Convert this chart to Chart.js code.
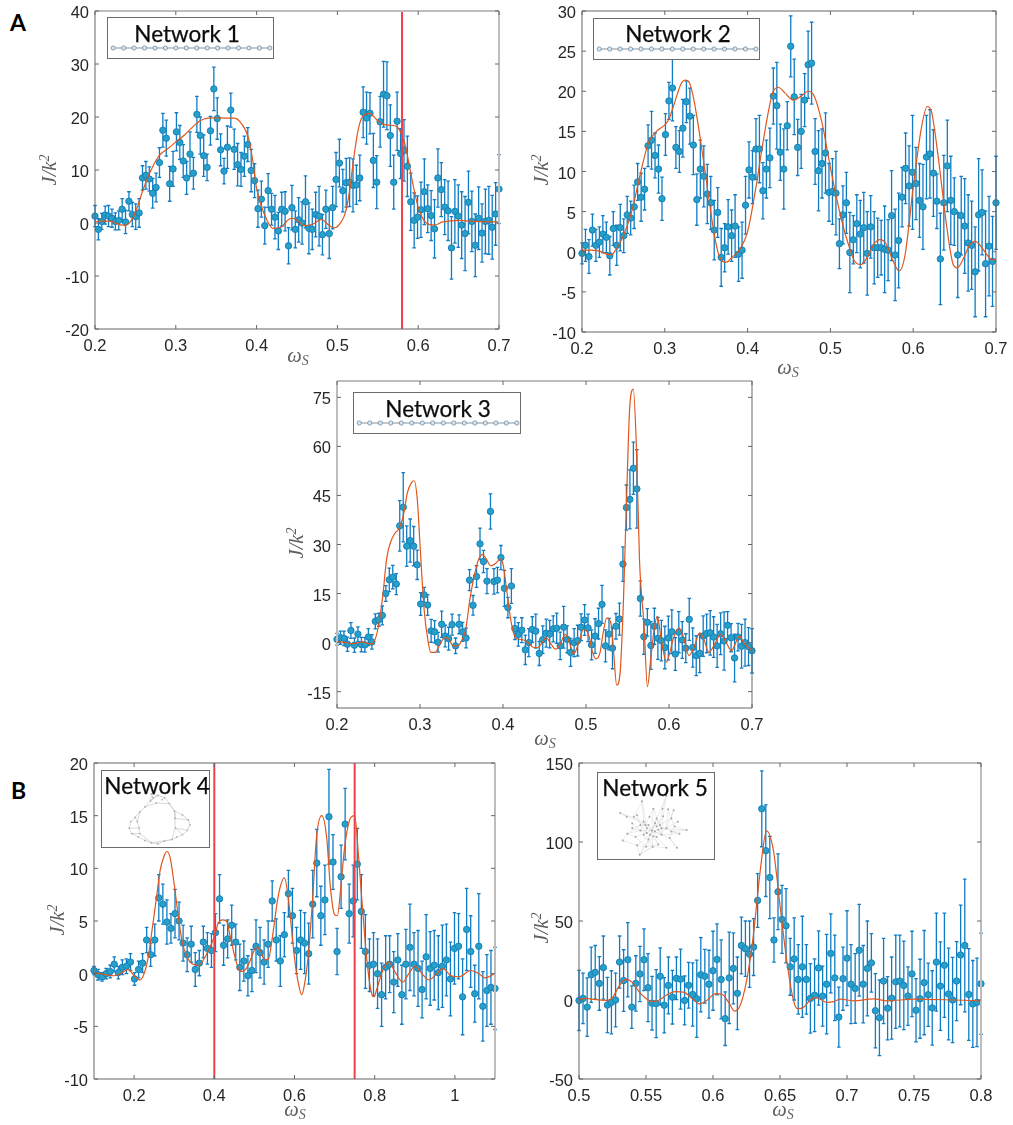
<!DOCTYPE html>
<html>
<head>
  <meta charset="UTF-8">
  <title>Network spectra</title>
  <script src="https://cdn.jsdelivr.net/npm/chart.js"></script>
  <style>
    html, body { margin: 0; background: #fff; overflow: hidden; }
    #page { position: relative; width: 1013px; height: 1125px; overflow: hidden; }
    #page canvas { position: absolute; }
    .letter { position: absolute; font: bold 23px Lato, sans-serif; color: #000; }
    .inset { position: absolute; box-sizing: border-box; border: 1.3px solid #6b6b6b; background: #fff; }
    .inset canvas { left: 0; top: 0; }
    .inset div { position: absolute; font: 22.5px Lato, sans-serif; color: #0c0c0c; -webkit-text-stroke: .25px #0c0c0c; white-space: nowrap; transform: translate(-50%, -50%); }
  </style>
</head>
<body>
<div id="page">
  <div class="letter" style="left:10px;top:8px">A</div>
  <div class="letter" style="left:11px;top:776px">B</div>
</div>
<script>
// frequency grids
const wA = [
  .2000,.2042,.2084,.2126,.2168,.2210,.2252,.2294,.2336,.2378,
  .2420,.2462,.2504,.2546,.2588,.2630,.2672,.2714,.2756,.2798,
  .2840,.2882,.2924,.2966,.3008,.3050,.3092,.3134,.3176,.3218,
  .3261,.3303,.3345,.3387,.3429,.3471,.3513,.3555,.3597,.3639,
  .3681,.3723,.3765,.3807,.3849,.3891,.3933,.3975,.4017,.4059,
  .4101,.4143,.4185,.4227,.4269,.4311,.4353,.4395,.4437,.4479,
  .4521,.4563,.4605,.4647,.4689,.4731,.4773,.4815,.4857,.4899,
  .4941,.4983,.5025,.5067,.5109,.5151,.5193,.5235,.5277,.5319,
  .5361,.5403,.5445,.5487,.5529,.5571,.5613,.5655,.5697,.5739,
  .5782,.5824,.5866,.5908,.5950,.5992,.6034,.6076,.6118,.6160,
  .6202,.6244,.6286,.6328,.6370,.6412,.6454,.6496,.6538,.6580,
  .6622,.6664,.6706,.6748,.6790,.6832,.6874,.6916,.6958,.7000];
const w4 = [
  .1000,.1101,.1202,.1303,.1404,.1505,.1606,.1707,.1808,.1909,
  .2010,.2111,.2212,.2313,.2414,.2515,.2616,.2717,.2818,.2919,
  .3020,.3121,.3222,.3323,.3424,.3525,.3626,.3727,.3828,.3929,
  .4030,.4131,.4232,.4333,.4434,.4535,.4636,.4737,.4838,.4939,
  .5040,.5141,.5242,.5343,.5444,.5545,.5646,.5747,.5848,.5949,
  .6051,.6152,.6253,.6354,.6455,.6556,.6657,.6758,.6859,.6960,
  .7061,.7162,.7263,.7364,.7465,.7566,.7667,.7768,.7869,.7970,
  .8071,.8172,.8273,.8374,.8475,.8576,.8677,.8778,.8879,.8980,
  .9081,.9182,.9283,.9384,.9485,.9586,.9687,.9788,.9889,.9990,
  1.0091,1.0192,1.0293,1.0394,1.0495,1.0596,1.0697,1.0798,1.0899,1.1000];
const w5 = [
  .5000,.5030,.5061,.5091,.5121,.5152,.5182,.5212,.5242,.5273,
  .5303,.5333,.5364,.5394,.5424,.5455,.5485,.5515,.5545,.5576,
  .5606,.5636,.5667,.5697,.5727,.5758,.5788,.5818,.5848,.5879,
  .5909,.5939,.5970,.6000,.6030,.6061,.6091,.6121,.6152,.6182,
  .6212,.6242,.6273,.6303,.6333,.6364,.6394,.6424,.6455,.6485,
  .6515,.6545,.6576,.6606,.6636,.6667,.6697,.6727,.6758,.6788,
  .6818,.6848,.6879,.6909,.6939,.6970,.7000,.7030,.7061,.7091,
  .7121,.7152,.7182,.7212,.7242,.7273,.7303,.7333,.7364,.7394,
  .7424,.7455,.7485,.7515,.7545,.7576,.7606,.7636,.7667,.7697,
  .7727,.7758,.7788,.7818,.7848,.7879,.7909,.7939,.7970,.8000];

// Network 1
const j1 = [
  1.3,-1.2,.3,1.5,1.3,.9,.3,.5,2.6,.2,
  4.1,1.6,1.2,1.9,8.5,9,8.3,5.6,6.7,11.4,
  17.5,16,7.4,10.2,17.2,15.2,11.7,8.5,13,9.4,
  20.5,16.5,12.7,10.5,17.4,25.3,19.7,13.8,9.8,14.3,
  21.3,13.9,11,10.1,12.6,14.8,9.9,8,2.7,4.5,
  -.5,6.1,2.6,1.1,-1.5,2.6,2.2,-4.3,2.9,-1.2,
  .6,0,4,-1,-1.2,1.6,1.3,-2.2,2.6,-2,
  2.9,8.2,11.3,6.1,7.6,7.7,7.1,7.2,8.5,20.9,
  19.8,20.7,11.8,7.7,19.1,24.3,24,16.5,7.7,19.2,
  13.1,13.7,10.7,4,.5,1.1,2.5,5.9,2.7,1.4,
  -1.1,8.5,6.3,3,2.3,-4.7,2.2,1.3,-.4,-2,
  3.9,.3,-4.2,.9,-1.9,.3,.5,-.8,1.7,6.4];
const err1 = [
  2,2,1.5,1.7,2,1.7,1.6,1.8,2,2.2,
  1.8,2.3,2.4,2.7,2.3,2.6,2.3,2.8,2.7,2.8,
  3.2,3.4,3.3,3.3,3.6,3.2,3.1,3.1,4.2,3,
  3.4,3.5,3.9,2.5,2.7,4.1,3.9,3,2.4,4,
  3.2,3.8,4,3.2,3.8,3.2,4,3.2,3.5,3.4,
  3.5,3.2,3,4.1,3.5,3.2,3.7,3.4,4.2,3.5,
  4.2,4,4.9,4.8,3.8,4.2,5.6,3.8,3.6,4.7,
  4,5.1,4.5,4,4.6,4.6,5,3.7,4.3,4.8,
  4.9,3.9,5.1,5,4.8,6.2,6.4,5.8,5.1,5.5,
  4.7,5.8,5.7,5.4,5.2,4,5.2,6.2,4.5,4.7,
  5.5,5.5,5.1,5.2,5.6,5.9,6,5.9,6.3,7,
  5.9,5.7,5.9,5.9,5.5,6.1,6.4,6,5.9,6.5];
const fitX1 = [.2,.21,.22,.23,.238,.245,.25,.26,.27,.28,.29,.3,.31,.32,.33,.34,.35,.36,.372,.38,.39,.395,.4,.41,.42,.43,.44,.445,.45,.46,.47,.48,.49,.497,.505,.51,.515,.52,.525,.53,.54,.55,.56,.57,.575,.58,.585,.59,.6,.61,.62,.63,.64,.65,.66,.67,.7];
const fitY1 = [.2,.4,.3,-.3,-.4,.5,2,6.5,10.2,12.8,14,15.3,16.5,18,19.3,19.8,19.85,19.8,19.8,19,16,12,6.5,1.5,-1,-.8,.7,.9,.5,-.5,-.2,.7,-.5,-.9,.3,2,6,12,17,19.8,20.7,19.3,18.5,18.4,18,16.5,14,10,3,0,-.4,.2,.4,.5,.4,.3,.2];
const marks1 = [.58];

// Network 2
const j2 = [
  -.2,.8,-.6,2.7,.8,1.2,2.2,1.8,-.5,2.9,
  .8,3,2,4.6,4.2,5.6,8.7,6.8,7.8,13.2,
  13.9,12,10.3,6.6,14.6,18.8,20.4,13,12.5,15.4,
  18.7,16.9,13.3,6.5,10.3,9.4,7.2,6.1,2.7,4.9,
  -.7,.5,3.1,2,3.2,-.3,.2,5.8,10.2,9.3,
  12.8,12.8,7.6,10.3,11.7,19.4,18.2,12.4,10.3,15.7,
  25.6,19.3,13,15,18.9,23.3,23.5,12.5,10.1,11,
  12.3,7.4,7.5,7.3,1,4.6,6.1,-.1,1.5,3.5,
  2.2,3,-.2,3.1,.5,.5,.5,.3,.2,4.5,
  -.4,1.4,6.8,10.4,8.2,9.9,8.5,6.4,5.6,11.8,
  12.2,9.8,6.3,-.9,6.1,10.7,6.4,5,-.4,4.5,
  3.2,1.1,.8,-2.5,4.6,4.9,-1.5,.7,-1.2,6.1];
const err2 = [
  1.3,2,2.1,2,2,1.9,2.3,1.9,2.4,2.1,
  2.5,2.9,2.1,2.3,2.1,2.7,2.3,3,2.6,2.6,
  3.6,2.8,3,2.7,2.6,2.3,4.1,2.6,2.6,3.6,
  2.6,3.5,3.7,3.2,3.6,3.8,3.7,3.3,3.7,3.1,
  3.6,3,3.4,3.2,3.9,3.4,3.5,3.6,3.5,3.3,
  3.8,4.2,3.5,3.6,3.7,3.5,5.4,3.5,5,3,
  3.8,4.7,3.5,4.6,3.3,4.2,5.1,4.1,5,4.3,
  5,3.6,4.1,5.2,3.1,3.6,3.8,5,3,3.6,
  4.2,4.4,5.2,3.9,4.5,3.7,3.4,5.4,3.8,5.6,
  5.7,5.9,3.7,4.4,5,7.1,4.5,4.6,5.3,5.2,
  5.5,5.4,3.4,5.7,5.9,5.7,5.5,4.2,5.3,4.9,
  5.9,6,5.5,5.6,7,5.3,6.6,6.2,5.6,5.8];
const fitX2 = [.2,.21,.22,.23,.235,.24,.25,.26,.27,.28,.29,.3,.305,.31,.32,.325,.33,.335,.34,.35,.36,.365,.37,.375,.38,.39,.4,.41,.42,.43,.437,.445,.455,.465,.473,.48,.49,.5,.51,.52,.53,.537,.545,.553,.56,.567,.575,.583,.59,.6,.61,.617,.622,.63,.64,.648,.653,.66,.668,.675,.68,.69,.695,.7];
const fitY2 = [.2,.2,.1,-.3,-.4,.1,2,5,9.5,13.5,15,15.8,16.5,18,21,21.4,21,19,16,9,2,-.3,-1.2,-1.3,-.8,.2,2.5,8,14.5,19.7,20.5,19.8,18.9,19.4,20,19.5,16,10.5,5.5,1.5,-1.3,-1.6,-.6,1,1.5,1,-1,-2.4,-.5,8,15.5,18.1,17.5,12,3.5,-1.5,-2,-1,.8,1.3,.9,-.5,-1,-.9];

// Network 3
const j3 = [
  1,1.5,1.3,-.5,3.7,-.8,2.6,-.6,-.7,1.7,
  .2,6.5,7,8.3,15,19.2,20,17.9,35.7,41.4,
  29.5,31.2,29.5,23.8,11.8,14.6,11.5,3.6,3.3,.1,
  5.6,2,1.2,5.5,-1,5.6,3.3,1.4,19.1,11.4,
  20.2,30.2,24.8,18.8,40.1,18.7,19.1,26,16.6,10.7,
  17.3,4.3,2.5,3.8,-2.2,0,4,3.5,-3.3,.9,
  2.9,2.6,4.2,4.4,-1,4.7,1,-3,0,.6,
  4.7,6.9,4.5,-.7,2,5.8,11.7,-1,2.6,-1.7,
  5,7.2,24,41.3,43.8,53.3,47,13.5,1.8,6.2,
  -.9,5,1.3,.6,-1.5,1.4,3.3,-3.5,3.2,.8,
  -1.7,7.1,-1.5,-4,-3.3,2,2.8,3,1.7,-1,
  2.7,.5,5.3,1.5,-4.7,1.7,-1.1,0,-1.2,-2.5];
const err3 = [
  1.8,2,2.2,2.2,2.4,2.2,2.2,2.2,2.2,2.6,
  2.2,2.3,2,2.9,2.4,3.6,3.6,3.2,7.7,10.6,
  6.2,6.6,6,4.5,3.5,2.3,3.2,3.5,3.4,3,
  4,3.3,3.5,3.2,2.4,2.9,2.9,3,3.2,3,
  3.3,4.8,3.4,3.8,5.4,3.9,3.9,3.7,5.5,3.1,
  5.3,3.4,3.6,3.8,4.5,4.3,3.9,5.2,3.7,4.2,
  4.3,4.2,4,4.6,4.2,6.4,4.1,4.3,4.3,4.7,
  4.1,4.7,4.2,4.6,5.3,4.7,5.8,4.9,4.8,6.3,
  3.9,4.9,5.3,6.9,9,8,12,5.4,5.4,4.2,
  7.3,5.5,6.4,6.2,6.5,6.7,6.7,5,6.3,5.6,
  4.4,6.4,6,6.1,5.9,6.2,5.9,6.8,6.2,6.6,
  6.4,8.9,4.2,4.3,7.3,4.2,6.7,7.2,5.8,6.8];
const fitX3 = [.2,.21,.22,.23,.24,.243,.25,.255,.26,.265,.27,.275,.28,.285,.29,.293,.297,.3,.305,.31,.313,.318,.325,.33,.335,.34,.345,.35,.355,.36,.365,.37,.375,.38,.385,.39,.397,.4,.405,.41,.415,.42,.425,.43,.437,.442,.447,.452,.458,.463,.468,.475,.48,.485,.49,.497,.503,.508,.512,.517,.52,.525,.53,.533,.537,.541,.545,.549,.5527,.557,.5607,.5645,.57,.574,.578,.582,.586,.59,.597,.6,.605,.612,.617,.624,.63,.637,.642,.648,.655,.662,.67,.675,.685,.69,.7];
const fitY3 = [.3,0,-.3,.2,-.4,-.3,5,14,26,31,33.5,35,39,46,49,49.5,43,30,10,0,-3,-3,0,1.5,1,-1,-1,.5,4,13,20,25,27,25.5,23.5,24,25.5,24,15,6,1.5,1,.8,0,-1.5,-1.5,0,1.5,-.5,-2,-1,2.5,0,-3.5,-1,4,2.5,-3,-5,-3,2,7.5,6,-2,-13,-9.5,12,45,72,77.5,60,25,5,-13.5,-5,4,8,2,-6,-4,1,4.5,2,-4,-1.5,3,1,-3,-.5,2.5,-.5,-2.5,2,0,-2.5];

// Network 4
const j4 = [
  .3,-.1,-.3,0,.2,.9,.1,.6,.7,1.1,
  -.5,.4,1,3.2,1.8,3.2,7.2,6.6,4.9,4.3,
  5.7,5,2.9,1.8,2.8,.4,1,3,2.4,2.2,
  3.9,7.1,2.7,3.3,4.6,3,.6,1.2,-.2,.3,
  2.6,2,1.1,2.8,6.9,3.2,1.2,3.7,7.6,5.5,
  2.2,3.2,2.9,1.9,6.6,10.5,5.5,7,14.9,10.6,
  2.1,9.2,14.2,5.7,6.9,10.4,5.9,2.1,.8,.9,
  0,-2,.6,.9,-.8,1.3,-2,.9,2.5,.9,
  .5,-1.5,1.6,.5,.8,.1,.7,1.3,-.5,2.4,
  2.6,-2.2,4.2,2.1,-1.9,2.6,-3.1,-1.6,-1.3,-1.4];
const err4 = [
  .4,.5,.4,.5,.6,.7,.6,.7,.7,.8,
  .6,.8,.9,1.2,1.1,1.5,2.2,1.9,2.1,1.4,
  2.3,1.8,1.7,1.6,1.7,1.6,1.2,1.5,1.5,1.6,
  1.8,2.3,1.9,1.8,1.9,1.7,2.2,1.9,1.9,2,
  2.5,2.4,2.1,2.2,1.9,2,2.4,2.1,2.2,2.6,
  2.2,2.8,2.9,2.9,3.2,3.2,2.8,3.3,4.5,2.6,
  2.2,3,3.4,2.8,3.4,3.4,3.5,3.5,2.5,3,
  3.3,3,3,2.7,2.9,2.5,2.8,3.3,4.1,3,
  3.6,2.7,4,3.5,3.3,3.5,3.9,3.4,3.5,3.4,
  3.1,3.6,3.9,3.4,2.7,5,3.3,3.4,3.5,3.9];
const fitX4 = [.1,.13,.15,.17,.185,.2,.215,.225,.235,.245,.255,.265,.275,.282,.29,.3,.31,.32,.33,.34,.36,.38,.4,.41,.42,.43,.44,.45,.46,.47,.48,.49,.505,.515,.525,.535,.545,.56,.575,.585,.6,.61,.618,.625,.635,.645,.655,.668,.68,.69,.7,.707,.715,.725,.74,.75,.76,.77,.78,.79,.798,.805,.82,.835,.85,.87,.885,.9,.92,.935,.955,.97,.99,1.01,1.04,1.06,1.075,1.09,1.1];
const fitY4 = [.1,-.1,-.2,.1,.4,-.2,-.6,0,1.5,4.2,7,9.8,11.2,11.6,11,8.5,5.5,3,1.8,1.1,.8,1.8,3.5,4.8,5.1,5,3.5,1.8,.5,.2,.5,1.3,2.5,2.2,1.3,1.4,3.5,7.5,9.1,7,1.5,-1,-2,-1,2,7,13,15,13,8,5.6,5.5,8,12,14.8,15,11,6,1.5,-1.5,-2.2,-1.5,.3,1.1,.2,-.8,0,.7,-.1,-.6,0,.5,-.2,-.3,.3,0,-.4,-.2,.1];
const marks4 = [.4, .75];

// Network 5
const j5 = [
  -.3,1,-4.5,16,17.5,10.5,20.5,-3.2,-1.5,0,
  24,12.3,25.5,-4.5,10.5,16.5,25.5,7.8,-2,-2.3,
  15,-3.3,9.2,1.8,13.7,13.2,-.3,9.3,3.5,.8,
  16,15,10,18.5,25.7,13,-11.8,14,20,4.2,
  34.5,32.5,29,33.5,63,121,94.5,77.5,38,68.5,
  51,47,21,26,13,21,13,1,3,20.3,
  2.5,10,29.5,14,-10.8,13.5,26.5,10,7.3,31.5,
  10,20,23.5,-6.8,-11.2,12,-5.2,1.2,11.5,12,
  9.2,2.5,16.5,-6.5,.8,11,3.3,-5,24,8.8,
  22,3.8,0,12,28.5,34.5,3.5,-2.5,-1.5,10.3];
const err5 = [
  19,16,18.5,17.5,17,17,20,17.5,20,17,
  16.5,19.5,23.5,13.5,17.5,17.5,19.5,21.5,17,21.5,
  18,17.5,18,17,13.5,19,15.5,14.5,20,24.5,
  23.5,17,21.5,25,22.5,25,17,29,22.5,23,
  18,17.5,21,18,17,24,29,26,14,24,
  21.5,23.5,18,26,22,32,22,22,23,23.5,
  19,31.5,25,27,19,20,30,25,22,29,
  24.5,30,18.5,23.5,24,27,20,26,29.5,29,
  28,18.5,27,20,25,33,20,23.5,31,28,
  33,29,27,25,31.5,42,29,27.5,28,32];
const fitX5 = [.5,.505,.51,.52,.525,.53,.535,.54,.545,.55,.555,.56,.565,.572,.578,.585,.59,.595,.602,.607,.612,.616,.62,.625,.63,.635,.64,.645,.65,.655,.66,.663,.667,.672,.676,.68,.685,.69,.695,.705,.72,.73,.75,.78,.8];
const fitY5 = [.3,1,.5,-.3,1.5,9,13,11,5,1,-1,0,3,5.3,5,.5,-2.5,-.5,4,3.5,-2,-7,-4,12,40,80,107,95,60,25,0,-5.5,-5,-.5,1.5,.5,-1.5,-1,.5,-.5,.7,-.5,.5,0,-.5];

// inset graphs
const chainX = [0,1,2,3,4,5,6,7,8,9,10,11,12,13,14,15];
const chainY = [0,0,0,0,0,0,0,0,0,0,0,0,0,0,0,0];
const chainFrom = [0,1,2,3,4,5,6,7,8,9,10,11,12,13,14];
const chainTo = [1,2,3,4,5,6,7,8,9,10,11,12,13,14,15];

const ringX = [185,205,225,240,255,280,298,303,295,280,262,248,225,205,185,165,145,125,117,122,135,150,165,182,190,200,257,258,148,142,150,218];
const ringY = [100,105,112,130,152,165,180,195,212,225,233,240,245,253,250,243,232,222,205,185,172,155,140,122,112,128,175,205,205,185,222,118];
const ringFrom = [0,1,2,3,4,5,6,7,8,9,10,11,12,13,14,15,16,17,18,19,20,21,22,23,24,22,25,3,4,26,27,11,14,30,28,29,20,18,17,0,24,1,26,27,8];
const ringTo   = [1,2,3,4,5,6,7,8,9,10,11,12,13,14,15,16,17,18,19,20,21,22,23,24,0,25,3,4,26,27,11,14,30,28,29,21,29,28,30,23,1,23,6,9,27];

const hubX = [185,230,155,88,108,130,140,190,218,235,252,160,200,220,245,265,292,270,255,230,210,195,170,150,125,110,96,135,160,175,200,215,240,262,230,205,188,168,140,148,125,245,178,175,195,205,180,170,190,215,165,150,200];
const hubY = [212,105,122,158,170,170,165,145,145,147,150,185,175,168,175,185,211,222,200,205,195,190,205,212,205,222,243,232,225,240,232,225,235,265,265,255,262,262,258,287,190,215,170,195,215,210,225,220,230,205,195,195,200];
const hubFrom = [0,0,0,0,0,0,0,0,0,0,0,0,0,0,0,1,1,1,2,2,3,3,3,5,6,7,8,9,10,10,11,12,13,14,15,16,16,17,18,19,20,21,22,23,24,25,26,26,27,28,29,30,31,32,33,34,35,36,37,38,39,39,40,41,42,43,44,45,46,47,48,49,50,51,52,43,44,46,50,51,52,45,49,48,47,12,7,2,9,35,38,37,16,14,24];
const hubTo   = [7,11,12,13,21,22,23,28,30,31,36,43,44,45,46,8,13,21,11,22,4,11,50,22,51,20,20,19,19,14,23,21,31,18,19,18,41,31,32,30,31,29,28,25,40,27,25,38,37,36,39,34,32,33,32,36,37,39,38,39,29,36,23,17,21,50,46,49,47,51,30,19,42,24,20,22,31,29,11,25,21,31,17,35,27,49,42,5,14,48,46,48,49,52,47];

const frameColor = '#666666';
const lightEdge = '#bdbdbd';

// keeps the plot box where the layout asks for it, whatever the edge labels need
function pinScale(s) {
  s.paddingTop = s.paddingBottom = s.paddingLeft = s.paddingRight = 0;
}

function makePanel(p) {
  const gutL = 62, gutT = 10, gutR = 16, gutB = 52;
  const [L, T, R, B] = p.rect;
  const canvas = document.createElement('canvas');
  canvas.width = R - L + gutL + gutR;
  canvas.height = B - T + gutT + gutB;
  canvas.style.left = (L - gutL) + 'px';
  canvas.style.top = (T - gutT) + 'px';
  document.getElementById('page').appendChild(canvas);

  // error bars sit under the markers
  const errorBars = {
    id: 'errorBars',
    beforeDatasetsDraw(chart) {
      const { ctx, scales: { x, y } } = chart;
      ctx.save();
      ctx.strokeStyle = '#0f7cc4';
      ctx.lineWidth = 1.3;
      p.w.forEach((w, i) => {
        const px = x.getPixelForValue(w);
        const hi = y.getPixelForValue(p.j[i] + p.err[i]);
        const lo = y.getPixelForValue(p.j[i] - p.err[i]);
        ctx.beginPath();
        ctx.moveTo(px, hi); ctx.lineTo(px, lo);
        ctx.moveTo(px - 1.8, hi); ctx.lineTo(px + 1.8, hi);
        ctx.moveTo(px - 1.8, lo); ctx.lineTo(px + 1.8, lo);
        ctx.stroke();
      });
      ctx.restore();
    }
  };

  // matlab style box with inward ticks, plus the two axis titles
  const frame = {
    id: 'frame',
    afterDatasetsDraw(chart) {
      const { ctx, chartArea: a, scales: { x, y } } = chart;
      ctx.save();
      const edge = (side, x0, y0, x1, y1) => {
        const light = p.lightSides.includes(side);
        ctx.strokeStyle = light ? lightEdge : frameColor;
        ctx.lineWidth = light ? 2 : 1;
        ctx.beginPath(); ctx.moveTo(x0, y0); ctx.lineTo(x1, y1); ctx.stroke();
      };
      edge('left', a.left, a.top, a.left, a.bottom);
      edge('bottom', a.left, a.bottom, a.right, a.bottom);
      edge('top', a.left, a.top, a.right, a.top);
      edge('right', a.right, a.top, a.right, a.bottom);
      ctx.strokeStyle = frameColor;
      ctx.lineWidth = 1;
      ctx.beginPath();
      p.xTicks.forEach(v => {
        const px = x.getPixelForValue(v);
        ctx.moveTo(px, a.bottom); ctx.lineTo(px, a.bottom - 4);
        ctx.moveTo(px, a.top); ctx.lineTo(px, a.top + 4);
      });
      p.yTicks.forEach(v => {
        const py = y.getPixelForValue(v);
        ctx.moveTo(a.left, py); ctx.lineTo(a.left + 4, py);
        ctx.moveTo(a.right, py); ctx.lineTo(a.right - 4, py);
      });
      ctx.stroke();

      ctx.fillStyle = '#5f5f5f';
      ctx.textBaseline = 'alphabetic';
      // omega with subscript S
      const big = 'italic 20.5px "Liberation Serif"', small = 'italic 14px "Liberation Serif"';
      ctx.font = big;
      const wOmega = ctx.measureText('ω').width;
      ctx.font = small;
      const wS = ctx.measureText('S').width;
      const tx = p.xTitle[0] - (L - gutL) - (wOmega + wS) / 2;
      const ty = p.xTitle[1] - (T - gutT) + 3;
      ctx.font = big; ctx.fillText('ω', tx, ty);
      ctx.font = small; ctx.fillText('S', tx + wOmega, ty + 3);
      // J/k^2, rotated
      ctx.translate(p.yTitle[0] - (L - gutL), p.yTitle[1] - (T - gutT));
      ctx.rotate(-Math.PI / 2);
      ctx.font = big;
      const wJ = ctx.measureText('J/k').width;
      ctx.font = small;
      const w2 = ctx.measureText('2').width;
      ctx.font = big; ctx.fillText('J/k', -(wJ + w2) / 2, 6);
      ctx.font = small; ctx.fillText('2', -(wJ + w2) / 2 + wJ, -1);
      ctx.restore();
    }
  };

  const datasets = [
    {
      data: p.w.map((w, i) => ({ x: w, y: p.j[i] })),
      pointRadius: 3.2,
      pointBackgroundColor: '#25a0c8',
      pointBorderColor: '#1a80b8',
      pointBorderWidth: 1,
      clip: false,
      order: 3
    },
    {
      data: p.fitX.map((v, i) => ({ x: v, y: p.fitY[i] })),
      showLine: true,
      pointRadius: 0,
      borderColor: '#e0561c',
      borderWidth: 1.2,
      cubicInterpolationMode: 'monotone',
      order: 2
    }
  ];
  (p.marks || []).forEach(m => datasets.push({
    data: [{ x: m, y: p.yRange[0] }, { x: m, y: p.yRange[1] }],
    showLine: true,
    pointRadius: 0,
    borderColor: '#f2404a',
    borderWidth: 2,
    order: 1
  }));

  new Chart(canvas, {
    type: 'scatter',
    data: { datasets },
    plugins: [errorBars, frame],
    options: {
      responsive: false,
      animation: false,
      events: [],
      layout: { autoPadding: false, padding: { top: gutT, right: gutR, left: 0, bottom: 0 } },
      plugins: { legend: { display: false }, tooltip: { enabled: false } },
      scales: {
        x: {
          type: 'linear',
          min: p.xRange[0],
          max: p.xRange[1],
          grid: { display: false, drawTicks: false },
          border: { display: false },
          afterBuildTicks: s => { s.ticks = p.xTicks.map(v => ({ value: v })); },
          afterFit: s => { s.height = gutB; pinScale(s); },
          ticks: { padding: 8, maxRotation: 0, autoSkip: false, color: '#262626', font: { family: 'Liberation Sans', size: 16.5 }, callback: v => String(v) }
        },
        y: {
          type: 'linear',
          min: p.yRange[0],
          max: p.yRange[1],
          grid: { display: false, drawTicks: false },
          border: { display: false },
          afterBuildTicks: s => { s.ticks = p.yTicks.map(v => ({ value: v })); },
          afterFit: s => { s.width = gutL; pinScale(s); },
          ticks: { padding: 6, labelOffset: 2.5, autoSkip: false, color: '#262626', font: { family: 'Liberation Sans', size: 16.5 }, callback: v => String(v) }
        }
      }
    }
  });
}

// small graph drawing inside a boxed label
function makeInset(b) {
  const box = document.createElement('div');
  box.className = 'inset';
  box.style.cssText = `left:${b.rect[0]}px;top:${b.rect[1]}px;width:${b.rect[2] - b.rect[0]}px;height:${b.rect[3] - b.rect[1]}px`;
  const canvas = document.createElement('canvas');
  canvas.width = b.rect[2] - b.rect[0] - 2;
  canvas.height = b.rect[3] - b.rect[1] - 2;
  box.appendChild(canvas);
  const title = document.createElement('div');
  title.textContent = b.title;
  title.style.left = (b.titleAt[0] - b.rect[0]) + 'px';
  title.style.top = (b.titleAt[1] - b.rect[1]) + 'px';
  box.appendChild(title);
  document.getElementById('page').appendChild(box);

  const edges = [];
  b.from.forEach((f, i) => {
    edges.push({ x: b.x[f], y: b.y[f] }, { x: b.x[b.to[i]], y: b.y[b.to[i]] }, { x: NaN, y: NaN });
  });
  new Chart(canvas, {
    type: 'scatter',
    data: {
      datasets: [
        { data: b.x.map((v, i) => ({ x: v, y: b.y[i] })), pointRadius: b.node, pointBackgroundColor: b.nodeFill, pointBorderColor: b.nodeLine, pointBorderWidth: b.nodeWidth, order: 1 },
        { data: edges, showLine: true, pointRadius: 0, borderColor: b.edge, borderWidth: b.edgeWidth, order: 2 }
      ]
    },
    options: {
      responsive: false,
      animation: false,
      events: [],
      layout: { autoPadding: false },
      plugins: { legend: { display: false }, tooltip: { enabled: false } },
      scales: {
        x: { display: false, min: b.xRange[0], max: b.xRange[1] },
        y: { display: false, min: b.yRange[0], max: b.yRange[1], reverse: !!b.flip }
      }
    }
  });
}

makePanel({ rect: [95, 11, 499, 329], w: wA, j: j1, err: err1, fitX: fitX1, fitY: fitY1, marks: marks1,
  xRange: [.2, .7], yRange: [-20, 40], xTicks: [.2, .3, .4, .5, .6, .7], yTicks: [-20, -10, 0, 10, 20, 30, 40],
  xTitle: [298, 359], yTitle: [50, 170], lightSides: ['top', 'right'] });
makePanel({ rect: [582, 11, 996, 332], w: wA, j: j2, err: err2, fitX: fitX2, fitY: fitY2,
  xRange: [.2, .7], yRange: [-10, 30], xTicks: [.2, .3, .4, .5, .6, .7], yTicks: [-10, -5, 0, 5, 10, 15, 20, 25, 30],
  xTitle: [788, 371], yTitle: [542, 170], lightSides: [] });
makePanel({ rect: [337, 381, 752, 708], w: wA, j: j3, err: err3, fitX: fitX3, fitY: fitY3,
  xRange: [.2, .7], yRange: [-20, 80], xTicks: [.2, .3, .4, .5, .6, .7], yTicks: [-15, 0, 15, 30, 45, 60, 75],
  xTitle: [545, 742], yTitle: [297, 543], lightSides: ['left', 'top'] });
makePanel({ rect: [94, 763, 495, 1079], w: w4, j: j4, err: err4, fitX: fitX4, fitY: fitY4, marks: marks4,
  xRange: [.1, 1.1], yRange: [-10, 20], xTicks: [.2, .4, .6, .8, 1], yTicks: [-10, -5, 0, 5, 10, 15, 20],
  xTitle: [295, 1113], yTitle: [58, 920], lightSides: ['right'] });
makePanel({ rect: [579, 763, 981, 1079], w: w5, j: j5, err: err5, fitX: fitX5, fitY: fitY5,
  xRange: [.5, .8], yRange: [-50, 150], xTicks: [.5, .55, .6, .65, .7, .75, .8], yTicks: [-50, 0, 50, 100, 150],
  xTitle: [783, 1113], yTitle: [542, 928], lightSides: ['top', 'right'] });

const chainStyle = { x: chainX, y: chainY, from: chainFrom, to: chainTo, xRange: [-.5, 15.3], yRange: [-1, 3],
  node: 2.1, nodeFill: '#dce9f3', nodeLine: '#7d9cb4', nodeWidth: 1, edge: '#8d9296', edgeWidth: 1 };
makeInset({ ...chainStyle, rect: [107, 17, 274, 59], title: 'Network 1', titleAt: [186, 32] });
makeInset({ ...chainStyle, rect: [593, 18, 760, 60], title: 'Network 2', titleAt: [677, 32] });
makeInset({ ...chainStyle, rect: [353, 392, 521, 434], title: 'Network 3', titleAt: [437, 407] });
makeInset({ rect: [101, 770, 210, 848], title: 'Network 4', titleAt: [156, 784], x: ringX, y: ringY, from: ringFrom, to: ringTo,
  xRange: [34, 361], yRange: [30, 263], flip: true, node: .9, nodeFill: '#b0b0b0', nodeLine: '#b0b0b0', nodeWidth: 0, edge: '#cfcfcf', edgeWidth: .8 });
makeInset({ rect: [597, 772, 715, 860], title: 'Network 5', titleAt: [654, 786], x: hubX, y: hubY, from: hubFrom, to: hubTo,
  xRange: [20, 376], yRange: [35, 300], flip: true, node: 1, nodeFill: '#a6a6a6', nodeLine: '#a6a6a6', nodeWidth: 0, edge: '#d6d6d6', edgeWidth: .5 });
</script>
</body>
</html>
